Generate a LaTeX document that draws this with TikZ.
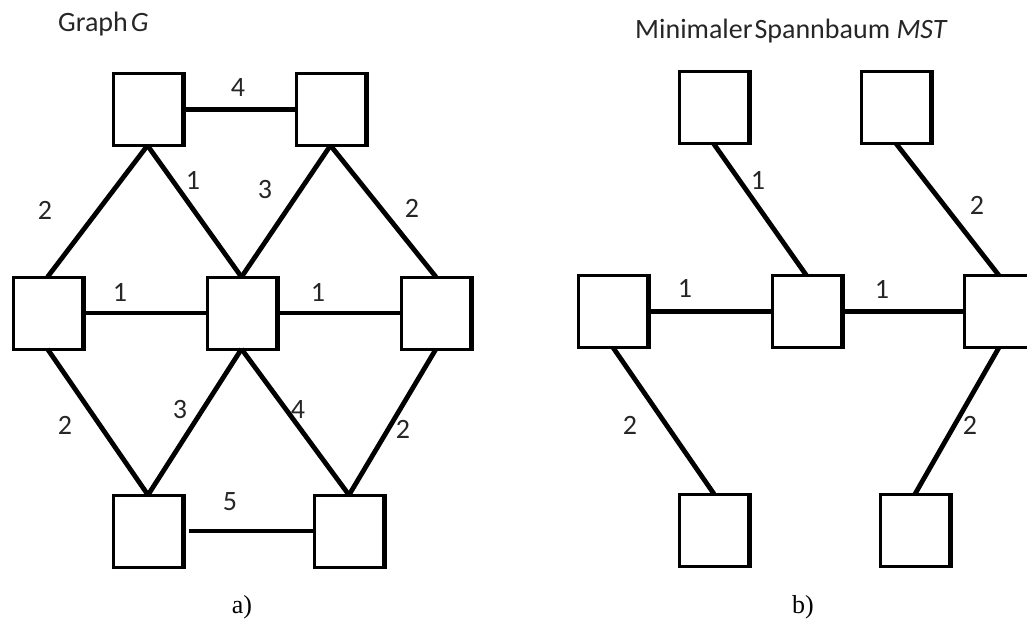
\documentclass[tikz,border=0pt]{standalone}
\usepackage{fontspec}
\setmainfont{Carlito}
\newfontfamily\capfont{Liberation Serif}
\usetikzlibrary{calc}
\begin{document}
\begin{tikzpicture}[x=1pt,y=-1pt,
  box/.style={draw, line width=3pt, minimum width=69pt, minimum height=72pt,
              inner sep=0pt, outer sep=0pt, fill=white},
  link/.style={line width=4.8pt},
  wt/.style={font=\fontsize{28}{30}\selectfont, inner sep=0pt, text=black!85},
  heading/.style={font=\fontsize{28}{30}\selectfont, inner sep=0pt, anchor=base west, text=black!85},
  caption/.style={font=\capfont\fontsize{26}{28}\selectfont, inner sep=0pt}]
\useasboundingbox (0,0) rectangle (1027,628);
\clip (0,0) rectangle (1027,628);

% ---- (a) graph G ----
\node[box] (gtl) at (147.5,109.5) {};
\node[box] (gtr) at (330.5,109.5) {};
\node[box] (gl)  at (47.5,313) {};
\node[box] (gc)  at (241.5,313) {};
\node[box] (gr)  at (436,313) {};
\node[box] (gbl) at (148,531) {};
\node[box] (gbr) at (349,531) {};

% ---- (b) minimum spanning tree ----
\node[box] (mtl) at (713.5,107.5) {};
\node[box] (mtr) at (896,107.5) {};
\node[box] (ml)  at (613,311.5) {};
\node[box] (mc)  at (806.5,311.5) {};
\node[box] (mr)  at (999,311.5) {};
\node[box] (mbl) at (714,530) {};
\node[box] (mbr) at (915,530) {};

% heavier right edge on every box
\foreach \n in {gtl,gtr,gl,gc,gr,gbl,gbr,mtl,mtr,ml,mc,mr,mbl,mbr}
  \fill ($(\n.north east)+(-1.5,-1.5)$) rectangle ($(\n.south east)+(3.5,1.5)$);

% edges of G
\draw[link] (gtl.east) -- (gtr.west);
\draw[link] (gtl.south) -- (gl.north);
\draw[link] (gtl.south) -- (gc.north);
\draw[link] (gtr.south) -- (gc.north);
\draw[link] (gtr.south) -- (gr.north);
\draw[link] (gl.east) -- (gc.west);
\draw[link] (gc.east) -- (gr.west);
\draw[link] (gl.south) -- (gbl.north);
\draw[link] (gc.south) -- (gbl.north);
\draw[link] (gc.south) -- (gbr.north);
\draw[link] (gr.south) -- (gbr.north);
\draw[link] ($(gbl.east)+(6,0)$) -- (gbr.west);

% edges of the MST
\draw[link] (mtl.south) -- (mc.north);
\draw[link] (mtr.south) -- (mr.north);
\draw[link] (ml.east) -- (mc.west);
\draw[link] (mc.east) -- (mr.west);
\draw[link] (ml.south) -- (mbl.north);
\draw[link] (mr.south) -- (mbr.north);

% weights of G
\node[wt] (w1) at (238,88) {4};
\node[wt] (w2) at (45,210) {2};
\node[wt] (w3) at (193,180) {1};
\node[wt] (w4) at (265,190) {3};
\node[wt] (w5) at (412,208) {2};
\node[wt] (w6) at (120,292) {1};
\node[wt] (w7) at (318,292) {1};
\node[wt] (w8) at (65,425) {2};
\node[wt] (w9) at (180,410) {3};
\node[wt] (w10) at (298,410) {4};
\node[wt] (w11) at (403,429) {2};
\node[wt] (w12) at (230,502) {5};

% weights of the MST
\node[wt] (v1) at (758,180) {1};
\node[wt] (v2) at (977,205) {2};
\node[wt] (v3) at (685,288) {1};
\node[wt] (v4) at (882,289) {1};
\node[wt] (v5) at (630,425) {2};
\node[wt] (v6) at (970,425) {2};

% headings and captions
\node[heading] (ha) at (58,32) {Graph\kern3pt\textit{G}};
\node[heading] (hb) at (635,39) {Minimaler\kern2pt Spannbaum \textit{MST}};
\node[caption] (ca) at (242,607) {a)};
\node[caption] (cb) at (803,607) {b)};
\end{tikzpicture}
\end{document}
